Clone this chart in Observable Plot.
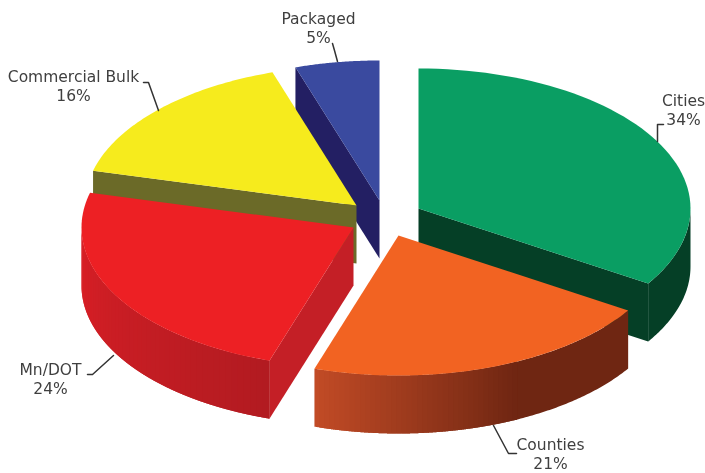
<!DOCTYPE html>
<html><head><meta charset="utf-8">
<style>html,body{margin:0;padding:0;background:#fff}svg{display:block;filter:blur(0.4px)}</style>
<script src="https://cdn.jsdelivr.net/npm/d3@7"></script>
<script src="https://cdn.jsdelivr.net/npm/@observablehq/plot@0.6"></script>
</head><body><div id="c"></div>
<script>
const categories = ["Cities","Counties","Mn/DOT","Commercial Bulk","Packaged"];
const values = [34,21,24,16,5];
const topColors = ["#0a9e63","#f26322","#ed2024","#f6eb1d","#3a4a9f"];
const wallColors = ["#053f26","#6f2612","#c41f26","#6b6a28","#231f63"];
const centerX = [418,398,353,356,379];
const centerY = [208,235,227,205,200];
const drawOrder = [4,3,0,2,1];
const labelX = [683,550,50,73,318];
const labelY = [93,437,362,69,11];
const leaders = [
  [[663,124],[657,124],[657,141]],
  [[493,425],[508,453],[516,453]],
  [[87,374],[92,374],[113,355]],
  [[143,82],[148,82],[158,110]],
  [[332,43],[334,50],[337,61]]
];
const rx = 272, ry = 140, depth = 58;

const total = d3.sum(values);
const starts = Array.from(d3.cumsum([0, ...values]), v => v / total * 2 * Math.PI);
const rim = (i, t, dz = 0) => ({x: centerX[i] + rx * Math.sin(t), y: centerY[i] - ry * Math.cos(t) + dz});
const apex = (i, dz = 0) => ({x: centerX[i], y: centerY[i] + dz});
const arc = (i, a, b, dz = 0) => d3.range(0, 61).map(k => rim(i, a + (b - a) * k / 60, dz));

const faces = [];
let fid = 0;
function face(pts, color) { const id = fid++; for (const p of pts) faces.push({...p, id, color}); }
function shadedWall(i, a, b, from, to, n) {
  // strips run from a to b; each one reaches under the next so no seam shows
  const shade = d3.interpolateRgb(from, to);
  for (let k = 0; k < n; k++) {
    const t0 = a + (b - a) * k / n;
    const t1 = a + (b - a) * Math.min(n, k + 2) / n;
    face([...arc(i, t0, t1), ...arc(i, t0, t1, depth).reverse()], shade((k + .5) / n));
  }
}
function radialWall(i, t, color) {
  face([apex(i), rim(i,t), rim(i,t,depth), apex(i,depth)], color);
}
for (const i of drawOrder) {
  const a = starts[i], b = starts[i + 1];
  if (i === 0) {
    face([...arc(i, Math.PI / 2, b), ...arc(i, Math.PI / 2, b, depth).reverse()], wallColors[0]);
    radialWall(i, b, wallColors[0]);
  }
  if (i === 1) {
    face([...arc(i, a, a + (b - a) * .43), ...arc(i, a, a + (b - a) * .43, depth).reverse()], wallColors[1]);
    shadedWall(i, b, a + (b - a) * .42, "#c24b26", wallColors[1], 40);
  }
  if (i === 2) { radialWall(i, a, wallColors[2]); shadedWall(i, 1.5 * Math.PI, a, "#da1f26", "#b21b21", 50); }
  if (i === 3 || i === 4) radialWall(i, a, wallColors[i]);
  face([apex(i), ...arc(i, a, b)], topColors[i]);
}

const leaderRows = leaders.flatMap((l, i) => l.map(([x, y]) => ({x, y, i})));
const labelRows = categories.map((c, i) => ({x: labelX[i], y: labelY[i], text: c + "\n" + values[i] + "%"}));

const chart = Plot.plot({
  width: 705, height: 473, margin: 0,
  x: {domain: [0, 705], range: [0, 705], axis: null},
  y: {domain: [0, 473], range: [0, 473], axis: null},
  style: {background: "#fff"},
  marks: [
    Plot.line(faces, {x: "x", y: "y", z: "id", fill: "color", stroke: "none"}),
    Plot.line(leaderRows, {x: "x", y: "y", z: "i", stroke: "#333", strokeWidth: 1.5}),
    Plot.text(labelRows, {x: "x", y: "y", text: "text", fill: "#3f3f3f", fontSize: 15.5, lineHeight: 1.17, lineAnchor: "top", fontFamily: "DejaVu Sans"})
  ]
});
document.getElementById("c").append(chart);
</script></body></html>
